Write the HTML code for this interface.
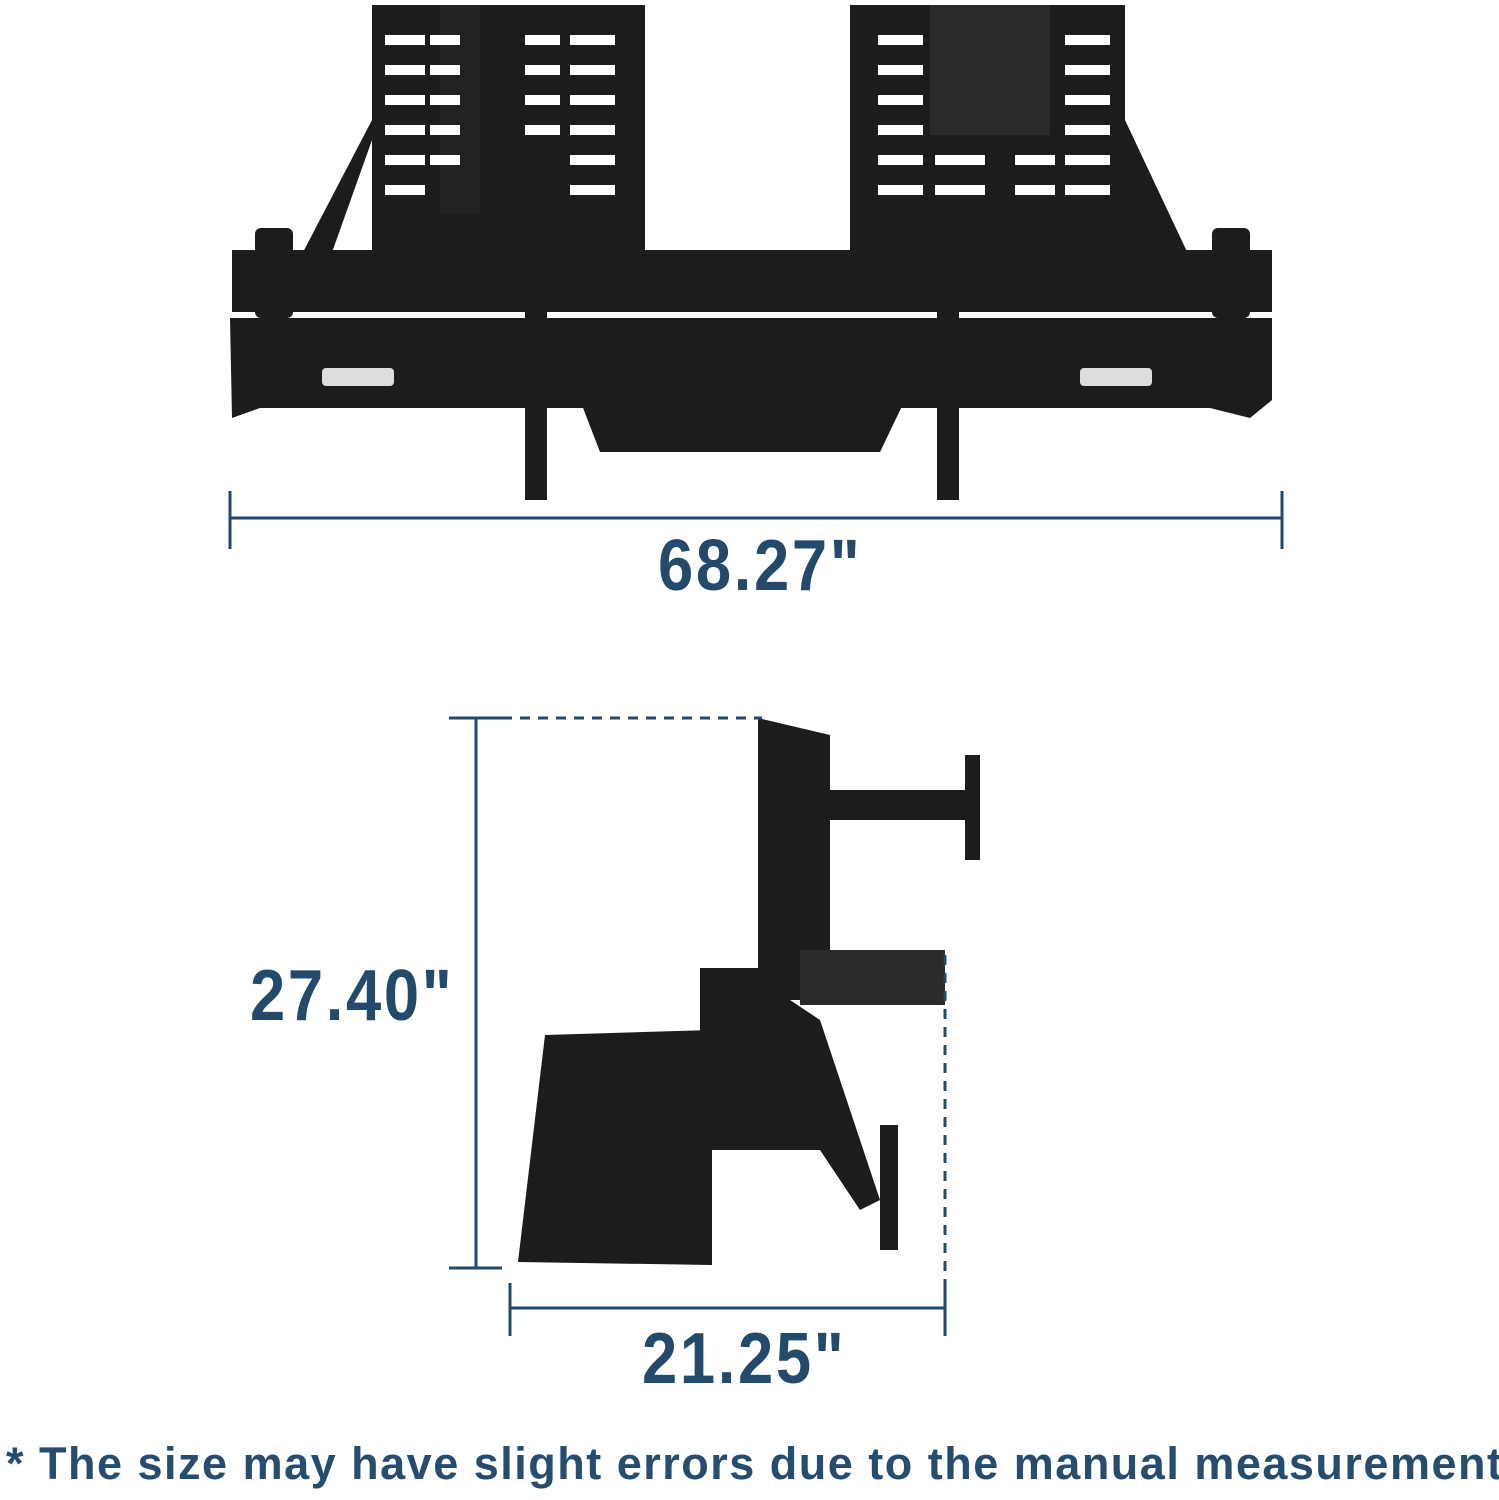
<!DOCTYPE html>
<html><head><meta charset="utf-8"><style>
html,body{margin:0;padding:0;background:#fff;}
body{width:1499px;height:1500px;position:relative;overflow:hidden;font-family:"Liberation Sans",sans-serif;}
.t{position:absolute;color:#234a6b;font-weight:bold;white-space:nowrap;}
.d{font-size:72px;letter-spacing:3px;transform:scaleX(0.88);transform-origin:0 0;}
</style></head><body>
<svg width="1499" height="1500" style="position:absolute;left:0;top:0">
<g fill="#1c1c1c">
<polygon points="372,5 645,5 645,258 372,258 372,140 330,258 300,258 372,120"/>
<polygon points="850,5 1125,5 1125,120 1190,258 1125,258 850,258"/>
<rect x="930" y="5" width="120" height="130" fill="#2a2a2a"/>
<rect x="232" y="250" width="1040" height="62"/>
<rect x="255" y="228" width="38" height="90" rx="6"/>
<rect x="1212" y="228" width="38" height="90" rx="6"/>
<polygon points="230,318 1272,318 1272,400 1250,418 1210,408 260,408 232,418"/>
<polygon points="580,400 905,400 880,452 600,452"/>
<rect x="378" y="210" width="220" height="50" rx="4"/>
<rect x="440" y="5" width="40" height="210" fill="#222"/>
<rect x="525" y="270" width="22" height="230"/>
<rect x="937" y="270" width="22" height="230"/>
</g>
<g fill="#fff">
<g>
<rect x="385" y="35" width="40" height="10"/><rect x="385" y="65" width="40" height="10"/><rect x="385" y="95" width="40" height="10"/><rect x="385" y="125" width="40" height="10"/><rect x="385" y="155" width="40" height="10"/><rect x="385" y="185" width="40" height="10"/>
<rect x="430" y="35" width="30" height="10"/><rect x="430" y="65" width="30" height="10"/><rect x="430" y="95" width="30" height="10"/><rect x="430" y="125" width="30" height="10"/><rect x="430" y="155" width="30" height="10"/>
<rect x="570" y="35" width="45" height="10"/><rect x="570" y="65" width="45" height="10"/><rect x="570" y="95" width="45" height="10"/><rect x="570" y="125" width="45" height="10"/><rect x="570" y="155" width="45" height="10"/><rect x="570" y="185" width="45" height="10"/>
<rect x="525" y="35" width="35" height="10"/><rect x="525" y="65" width="35" height="10"/><rect x="525" y="95" width="35" height="10"/><rect x="525" y="125" width="35" height="10"/>
</g>
<g>
<rect x="878" y="35" width="45" height="10"/><rect x="878" y="65" width="45" height="10"/><rect x="878" y="95" width="45" height="10"/><rect x="878" y="125" width="45" height="10"/><rect x="878" y="155" width="45" height="10"/><rect x="878" y="185" width="45" height="10"/>
<rect x="1065" y="35" width="45" height="10"/><rect x="1065" y="65" width="45" height="10"/><rect x="1065" y="95" width="45" height="10"/><rect x="1065" y="125" width="45" height="10"/><rect x="1065" y="155" width="45" height="10"/><rect x="1065" y="185" width="45" height="10"/>
<rect x="935" y="155" width="50" height="10"/><rect x="935" y="185" width="50" height="10"/><rect x="1015" y="155" width="40" height="10"/><rect x="1015" y="185" width="40" height="10"/>
</g>
<rect x="322" y="368" width="72" height="18" rx="4" fill="#ddd"/>
<rect x="1080" y="368" width="72" height="18" rx="4" fill="#ddd"/>
</g>
<g fill="#1c1c1c">
<polygon points="758,718 830,735 830,1000 758,1000"/>
<rect x="830" y="790" width="140" height="30"/>
<rect x="965" y="755" width="15" height="105"/>
<rect x="800" y="950" width="145" height="55" fill="#2b2b2b"/>
<polygon points="700,968 760,968 790,1000 820,1020 880,1200 860,1210 820,1150 700,1150"/>
<polygon points="545,1035 712,1030 712,1265 518,1262"/>
<rect x="715" y="995" width="45" height="120"/>
<rect x="880" y="1125" width="18" height="125"/>
</g>
<g stroke="#234a6b" stroke-width="3" fill="none">
<line x1="230" y1="518" x2="1282" y2="518"/>
<line x1="230" y1="491" x2="230" y2="549"/>
<line x1="1282" y1="491" x2="1282" y2="549"/>
<line x1="476" y1="718" x2="476" y2="1268"/>
<line x1="449" y1="718" x2="502" y2="718"/>
<line x1="449" y1="1268" x2="502" y2="1268"/>
<line x1="502" y1="718" x2="762" y2="718" stroke-dasharray="10,8"/>
<line x1="510" y1="1308" x2="945" y2="1308"/>
<line x1="510" y1="1283" x2="510" y2="1336"/>
<line x1="945" y1="1283" x2="945" y2="1336"/>
<line x1="945" y1="955" x2="945" y2="1290" stroke-dasharray="10,8"/>
</g>
</svg>
<div class="t d" style="left:658px;top:525px;">68.27"</div>
<div class="t d" style="left:250px;top:955px;">27.40"</div>
<div class="t d" style="left:642px;top:1318px;">21.25"</div>
<div class="t" style="left:6px;top:1438px;font-size:45px;letter-spacing:1.5px;color:#264d6e;">* The size may have slight errors due to the manual measurement</div>
</body></html>
